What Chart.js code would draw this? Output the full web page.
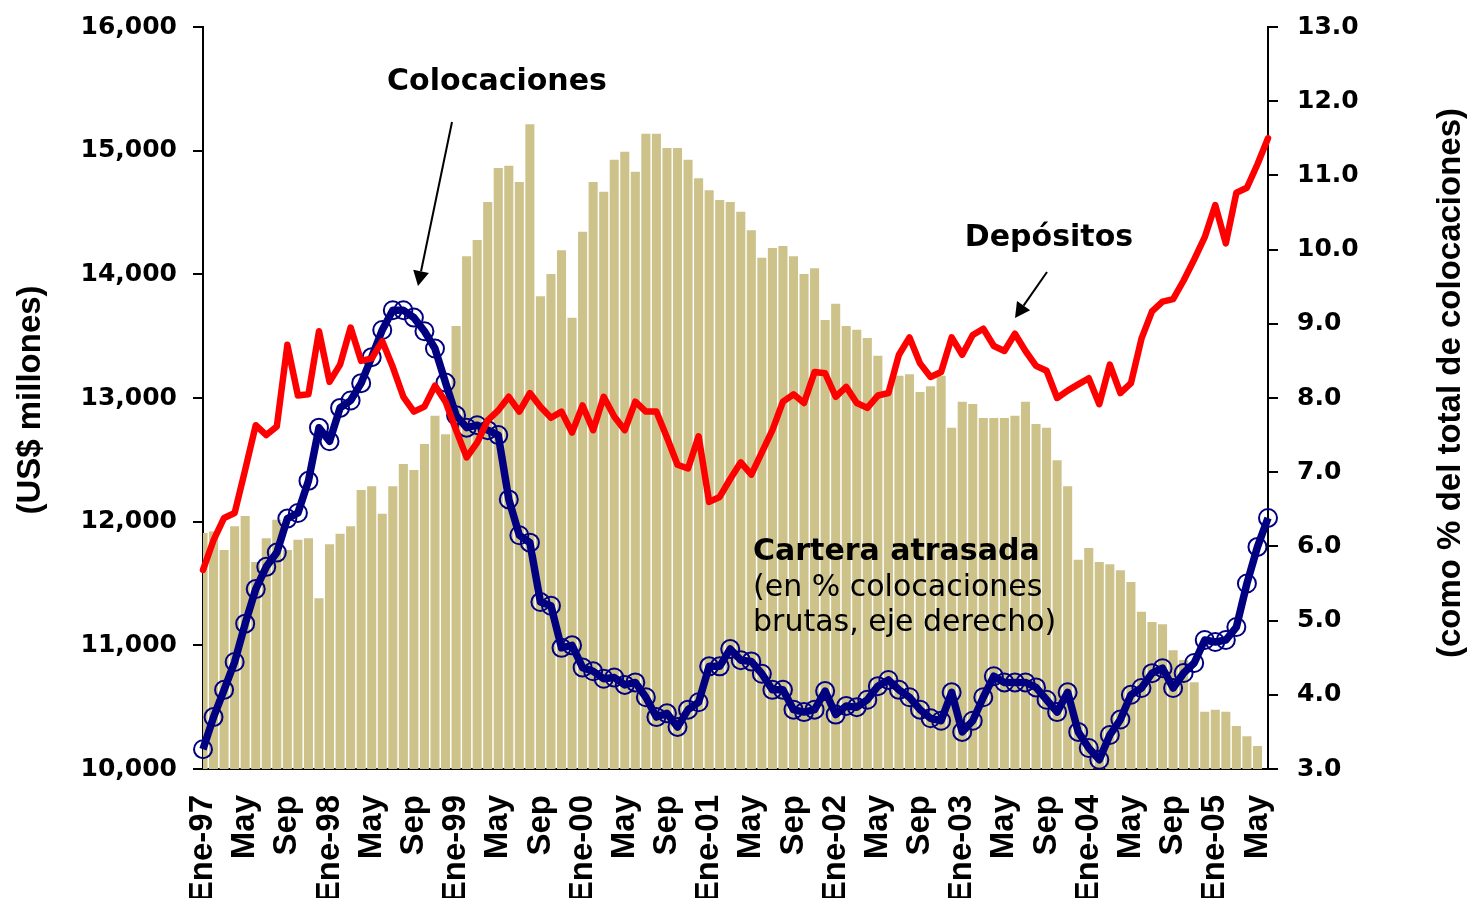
<!DOCTYPE html>
<html><head><meta charset="utf-8">
<script src="https://cdn.jsdelivr.net/npm/chart.js@4/dist/chart.umd.min.js"></script>
<style>html,body{margin:0;padding:0;background:#fff;}canvas{display:block;}</style>
</head><body>
<canvas id="c" width="1470" height="898"></canvas>
<script>
// ---- data ----
const monthNames = ['Ene','Feb','Mar','Abr','May','Jun','Jul','Ago','Sep','Oct','Nov','Dic'];
const years = ['97','98','99','00','01','02','03','04','05'];
const categories = [];
years.forEach(y => monthNames.forEach(m => categories.push(m + '-' + y)));
categories.length = 102; // Ene-97 .. Jun-05

const tickLabels = ['Ene-97','May','Sep','Ene-98','May','Sep','Ene-99','May','Sep','Ene-00','May','Sep',
  'Ene-01','May','Sep','Ene-02','May','Sep','Ene-03','May','Sep','Ene-04','May','Sep','Ene-05','May'];

// Depósitos (US$ millones, eje izquierdo)
const depositos = [
  11610,11850,12030,12070,12420,12780,12700,12770,13430,13020,13030,13540,
  13130,13270,13570,13300,13320,13460,13250,13010,12890,12930,13100,12970,
  12740,12520,12640,12820,12900,13010,12890,13040,12930,12840,12890,12720,
  12940,12740,13010,12850,12740,12970,12890,12890,12680,12460,12430,12690,
  12160,12200,12345,12480,12380,12560,12740,12970,13030,12960,13210,13200,
  13010,13090,12960,12920,13020,13040,13350,13490,13280,13170,13210,13490,
  13350,13510,13560,13420,13380,13520,13380,13260,13220,13000,13060,13110,
  13160,12950,13270,13040,13120,13480,13700,13780,13800,13950,14120,14300,
  14560,14250,14660,14700,14890,15100
];

// Colocaciones (US$ millones, eje izquierdo)
const colocaciones = [
  10160,10420,10640,10865,11175,11455,11635,11750,12025,12070,12330,12760,
  12650,12920,12980,13120,13330,13550,13710,13710,13650,13540,13400,13125,
  12860,12760,12780,12740,12700,12180,11890,11830,11350,11320,10980,11000,
  10820,10790,10730,10740,10680,10700,10580,10420,10450,10340,10480,10540,
  10830,10830,10970,10880,10870,10770,10640,10640,10480,10460,10480,10630,
  10440,10510,10500,10560,10670,10720,10640,10580,10480,10410,10390,10620,
  10300,10390,10580,10750,10700,10700,10700,10660,10560,10460,10620,10300,
  10170,10075,10275,10400,10600,10655,10775,10815,10655,10776,10857,11043,
  11027,11043,11148,11500,11796,12030
];

// Cartera atrasada (% de colocaciones, eje derecho)
const carteraAtrasada = [
  6.18,6.20,5.95,6.27,6.41,5.79,6.11,6.36,5.95,6.09,6.11,5.30,
  6.03,6.17,6.27,6.76,6.81,6.44,6.81,7.11,7.03,7.38,7.76,7.51,
  8.97,9.91,10.13,10.64,11.10,11.13,10.91,11.69,9.37,9.67,9.99,9.08,
  10.24,10.91,10.78,11.21,11.32,11.05,11.56,11.56,11.37,11.37,11.21,10.96,
  10.80,10.67,10.64,10.51,10.26,9.89,10.02,10.05,9.91,9.67,9.75,9.05,
  9.27,8.97,8.92,8.81,8.57,8.10,8.30,8.32,8.08,8.16,8.30,7.60,
  7.95,7.92,7.73,7.73,7.73,7.76,7.95,7.65,7.60,7.16,6.81,5.82,
  5.98,5.79,5.76,5.68,5.52,5.12,4.98,4.95,4.60,4.47,4.17,3.77,
  3.80,3.77,3.58,3.44,3.31,null
];

// ---- annotations / titles plugin ----
function arrow(ctx, x1, y1, x2, y2) {
  const ang = Math.atan2(y2 - y1, x2 - x1);
  const L = 15, W = 8;
  const bx = x2 - L * Math.cos(ang), by = y2 - L * Math.sin(ang);
  ctx.beginPath(); ctx.moveTo(x1, y1); ctx.lineTo(bx, by); ctx.stroke();
  ctx.beginPath();
  ctx.moveTo(x2, y2);
  ctx.lineTo(bx + W * Math.sin(ang), by - W * Math.cos(ang));
  ctx.lineTo(bx - W * Math.sin(ang), by + W * Math.cos(ang));
  ctx.closePath(); ctx.fill();
}
const annotations = {
  id: 'annotations',
  afterDraw(chart) {
    const ctx = chart.ctx;
    ctx.save();
    ctx.fillStyle = '#000'; ctx.strokeStyle = '#000'; ctx.lineWidth = 2;
    ctx.textBaseline = 'middle';
    ctx.font = 'bold 30px "DejaVu Sans"';
    ctx.textAlign = 'center';
    ctx.fillText('Colocaciones', 497, 82);
    ctx.fillText('Depósitos', 1049, 238);
    ctx.textAlign = 'left';
    ctx.fillText('Cartera atrasada', 753, 552);
    ctx.font = '30px "DejaVu Sans"';
    ctx.fillText('(en % colocaciones', 753, 588);
    ctx.fillText('brutas, eje derecho)', 753, 623);
    arrow(ctx, 452, 122, 418, 286);
    arrow(ctx, 1047, 272, 1015, 318);
    // axis titles
    ctx.font = 'bold 33px "Liberation Sans"';
    ctx.textAlign = 'center';
    ctx.save(); ctx.translate(31, 400); ctx.rotate(-Math.PI / 2); ctx.fillText('(US$ millones)', 0, 0); ctx.restore();
    ctx.save(); ctx.translate(1451, 383); ctx.rotate(-Math.PI / 2); ctx.fillText('(como % del total de colocaciones)', 0, 0); ctx.restore();
    ctx.restore();
  }
};

function fixVertical(width) {
  return s => { s.width = width; s.paddingTop = 0; s.paddingBottom = 0; };
}

new Chart(document.getElementById('c'), {
  type: 'bar',
  data: {
    labels: categories,
    datasets: [
      { type: 'line', label: 'Depósitos', data: depositos, yAxisID: 'y',
        borderColor: '#FF0000', borderWidth: 6.5, pointRadius: 0, tension: 0,
        borderJoinStyle: 'round', borderCapStyle: 'round', order: 1, clip: false },
      { type: 'line', label: 'Colocaciones', data: colocaciones, yAxisID: 'y',
        borderColor: '#000080', borderWidth: 7.5, tension: 0, borderJoinStyle: 'round',
        pointRadius: 9, pointBorderWidth: 2, pointBorderColor: '#000080',
        pointBackgroundColor: 'rgba(0,0,0,0)', order: 2, clip: false },
      { type: 'bar', label: 'Cartera atrasada', data: carteraAtrasada, yAxisID: 'y2',
        backgroundColor: '#CCC28A', barPercentage: 0.86, categoryPercentage: 1, order: 3 }
    ]
  },
  options: {
    responsive: false, animation: false, devicePixelRatio: 1,
    layout: { autoPadding: false, padding: { top: 27, left: 0, right: 0, bottom: 0 } },
    plugins: { legend: { display: false }, tooltip: { enabled: false } },
    scales: {
      x: {
        type: 'category', offset: false,
        grid: { display: false, drawTicks: false },
        border: { display: true, color: '#000', width: 2 },
        ticks: {
          autoSkip: false, maxRotation: 90, minRotation: 90, padding: 26,
          color: '#000', font: { family: 'Liberation Sans', weight: 'bold', size: 33 },
          callback: (v, i) => (i % 4 === 0 ? tickLabels[i / 4] : '')
        },
        afterFit: s => { s.height = 129; s.paddingLeft = 0; s.paddingRight = 0; }
      },
      y: {
        position: 'left', min: 10000, max: 16000,
        grid: { display: true, drawOnChartArea: false, drawTicks: true, tickLength: 10, color: '#000', lineWidth: 2 },
        border: { display: true, color: '#000', width: 2 },
        ticks: {
          stepSize: 1000, padding: 16, color: '#000',
          font: { family: 'DejaVu Sans', weight: 'bold', size: 25 },
          callback: v => v.toLocaleString('en-US')
        },
        afterFit: fixVertical(203)
      },
      y2: {
        position: 'right', min: 3, max: 13,
        grid: { display: true, drawOnChartArea: false, drawTicks: true, tickLength: 10, color: '#000', lineWidth: 2 },
        border: { display: true, color: '#000', width: 2 },
        ticks: {
          stepSize: 1, padding: 19, color: '#000',
          font: { family: 'DejaVu Sans', weight: 'bold', size: 25 },
          callback: v => v.toFixed(1)
        },
        afterFit: fixVertical(202)
      }
    }
  },
  plugins: [annotations]
});
</script>
</body></html>
